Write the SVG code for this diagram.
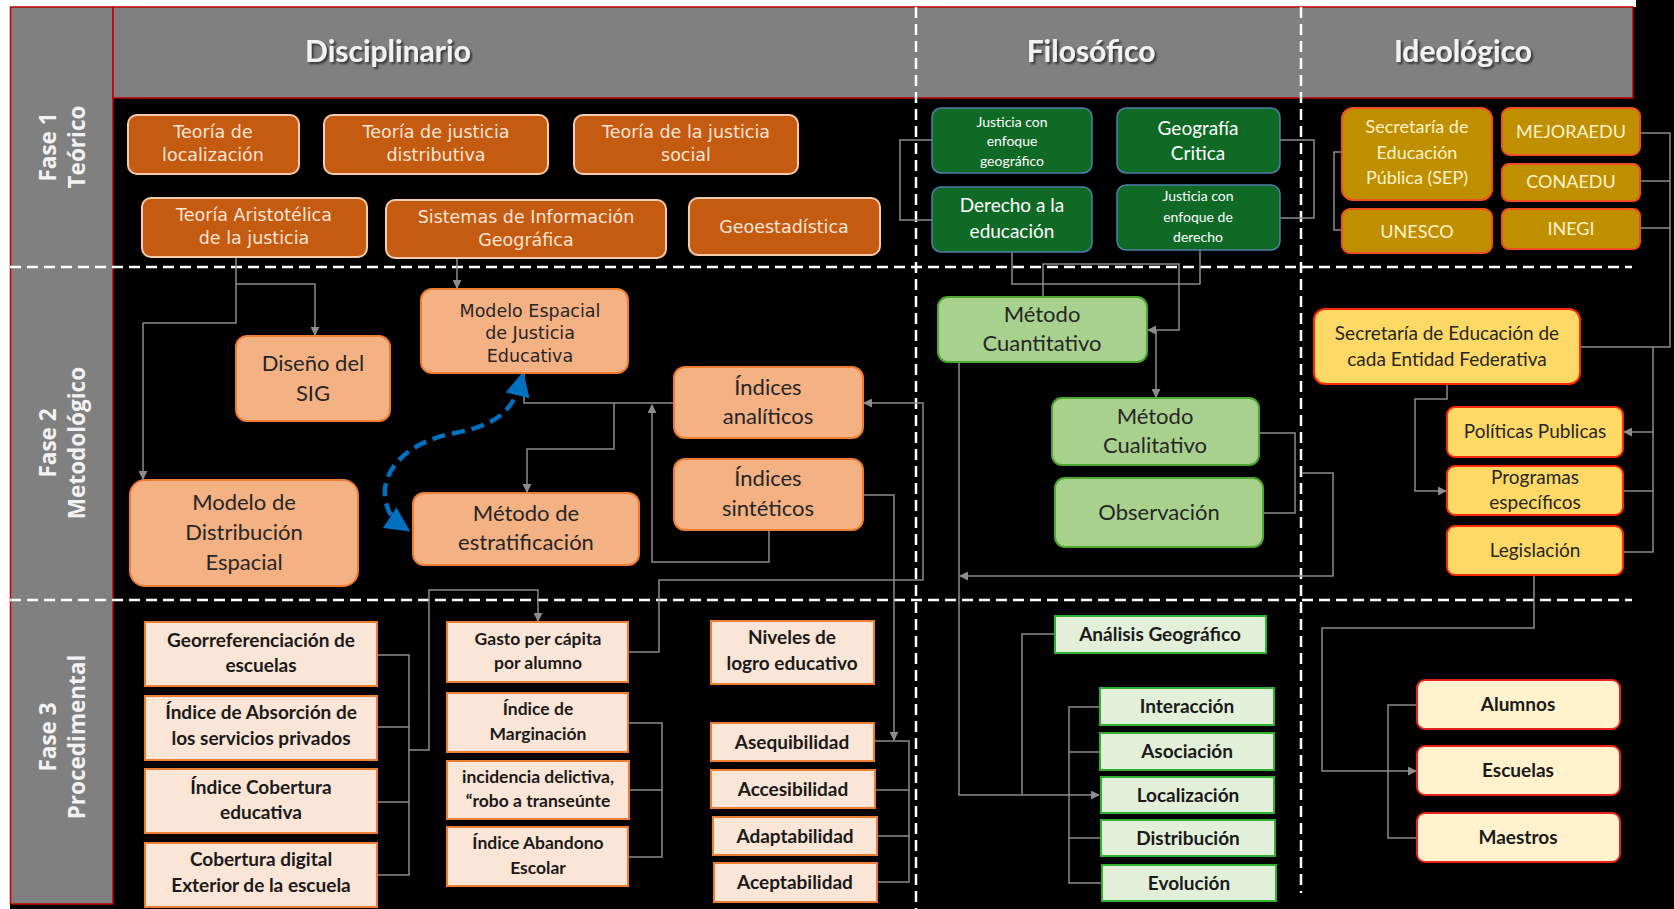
<svg xmlns="http://www.w3.org/2000/svg" width="1674" height="909" viewBox="0 0 1674 909">
<style>
text{text-anchor:middle}
.hd{font-family:Lato,"Liberation Sans",sans-serif;font-weight:bold;font-size:30px;fill:#F2F2F2}
.fl{font-family:"Open Sans","Liberation Sans",sans-serif;font-weight:bold;font-size:22.5px;fill:#F2F2F2}
.dash{stroke:#FFFFFF;stroke-width:2.5;stroke-dasharray:11 6;fill:none}
.c{stroke:#8C8C8C;stroke-width:1.5;fill:none}
.ca{stroke:#8C8C8C;stroke-width:1.5;fill:none;marker-end:url(#ag)}
.o1{fill:#C55A11;stroke:#F8CBAD;stroke-width:2}
.t1{font-family:"DejaVu Sans","Liberation Sans",sans-serif;font-size:17.5px;fill:#FBE5D6}
.g1{fill:#0F6A25;stroke:#4F7FA8;stroke-width:1.5}
.tg{font-family:Lato,"Liberation Sans",sans-serif;font-size:19px;fill:#FFFFFF}
.tgs{font-family:Lato,"Liberation Sans",sans-serif;font-size:14px;fill:#FFFFFF}
.y1{fill:#BF8F00;stroke:#F0501E;stroke-width:2}
.ty1{font-family:Lato,"Liberation Sans",sans-serif;font-size:18px;fill:#FFF2CC}
.o2{fill:#F4B183;stroke:#ED7D31;stroke-width:2}
.t2{font-family:Lato,"Liberation Sans",sans-serif;font-size:22px;fill:#262626}
.t2m{font-family:"DejaVu Sans","Liberation Sans",sans-serif;font-size:17.5px;fill:#262626}
.gr2{fill:#A9D18E;stroke:#4EA72E;stroke-width:2}
.y2{fill:#FFD966;stroke:#FF2A00;stroke-width:2}
.ty2{font-family:Lato,"Liberation Sans",sans-serif;font-size:19px;fill:#262626}
.p3{fill:#FBE5D6;stroke:#ED7D31;stroke-width:2}
.t3{font-family:Lato,"Liberation Sans",sans-serif;font-weight:bold;font-size:19px;fill:#1A1A1A}
.t3s{font-family:Lato,"Liberation Sans",sans-serif;font-weight:bold;font-size:17.5px;fill:#1A1A1A}
.gr3{fill:#E2F0D9;stroke:#2FB02F;stroke-width:2}
.c3{fill:#FFF2CC;stroke:#E8231B;stroke-width:2}
</style>
<defs>
<marker id="ag" viewBox="0 0 10 10" refX="9" refY="5" markerWidth="9" markerHeight="9" markerUnits="userSpaceOnUse" orient="auto"><path d="M0,0 L10,5 L0,10 z" fill="#8C8C8C"/></marker>
<marker id="ab" viewBox="0 0 10 10" refX="6" refY="5" markerWidth="5.5" markerHeight="5.5" orient="auto-start-reverse"><path d="M0,0 L10,5 L0,10 z" fill="#0070C0"/></marker>
<filter id="sh" x="-10%" y="-20%" width="130%" height="150%"><feDropShadow dx="2" dy="2" stdDeviation="1.2" flood-color="#000" flood-opacity="0.6"/></filter>
</defs>

<g id="background">
<rect x="0" y="0" width="1674" height="909" fill="#FFFFFF"/>
<rect x="10" y="7" width="1664" height="902" fill="#000000"/>
<rect x="1636" y="0" width="38" height="8" fill="#000000"/>
<rect x="10.5" y="7" width="102.5" height="897" fill="#808080" stroke="#C00000" stroke-width="1.5"/>
<rect x="113" y="7" width="1520" height="91" fill="#808080" stroke="#C00000" stroke-width="1.5"/>
</g>

<g id="headers" filter="url(#sh)">
<text class="hd" x="388" y="62">Disciplinario</text>
<text class="hd" x="1091" y="62">Filosófico</text>
<text class="hd" x="1463" y="62">Ideológico</text>
</g>

<g id="phase-labels">
<g transform="translate(62,147) rotate(-90)"><text class="fl" x="0" y="-6">Fase 1</text><text class="fl" x="0" y="23">Teórico</text></g>
<g transform="translate(62,443) rotate(-90)"><text class="fl" x="0" y="-6">Fase 2</text><text class="fl" x="0" y="23">Metodológico</text></g>
<g transform="translate(62,737) rotate(-90)"><text class="fl" x="0" y="-6">Fase 3</text><text class="fl" x="0" y="23">Procedimental</text></g>
</g>

<g id="dividers">
<line class="dash" x1="10" y1="267" x2="1632" y2="267"/>
<line class="dash" x1="10" y1="600" x2="1632" y2="600"/>
<line class="dash" x1="916" y1="7" x2="916" y2="909"/>
<line class="dash" x1="1301" y1="7" x2="1301" y2="893"/>
</g>

<g id="connectors">
<path class="ca" d="M236,257 V323 H143 V479"/>
<path class="ca" d="M236,284 H315 V335"/>
<path class="ca" d="M457,258 V288"/>
<path class="c" d="M674,403 H524 V374"/>
<path class="ca" d="M614,403 V449 H527 V492"/>
<path class="ca" d="M769,530 V562 H652 V405"/>
<path class="ca" d="M628,652 H659 V580 H923 V403 H864"/>
<path class="ca" d="M862,495 H894 V740"/>
<path class="c" d="M875,741 H909 V882 H877 M875,790 H909 M877,836 H909"/>
<path class="c" d="M377,655 H409 V875 H377 M377,727 H409 M377,802 H409"/>
<path class="ca" d="M409,750 H429 V590 H538 V621"/>
<path class="c" d="M628,723 H662 V857 H628 M629,790 H662"/>
<path class="c" d="M932,140 H900 V220 H932"/>
<path class="c" d="M1280,140 H1314 V218 H1280"/>
<path class="c" d="M1012,252 V284 H1200 V250"/>
<path class="ca" d="M1043,297 V264 H1179 V330 H1148"/>
<path class="ca" d="M1156,330 V397"/>
<path class="c" d="M1259,433 H1295 V513 H1263"/>
<path class="ca" d="M1302,473 H1333 V576 H960"/>
<path class="ca" d="M959,362 V795 H1099"/>
<path class="c" d="M1055,634 H1022 V795"/>
<path class="c" d="M1100,707 H1069 V883 H1102 M1069,752 H1100 M1069,838 H1101"/>
<path class="c" d="M1342,152 H1334 V230 H1342"/>
<path class="c" d="M1640,133 H1670 V347 H1580 M1640,181 H1670 M1640,228 H1670"/>
<path class="c" d="M1653,347 V552 H1623 M1653,491 H1623"/>
<path class="ca" d="M1653,432 H1624"/>
<path class="ca" d="M1447,384 V399 H1415 V491 H1446"/>
<path class="ca" d="M1534,575 V628 H1322 V771 H1416"/>
<path class="c" d="M1417,705 H1388 V838 H1417"/>
<path d="M521,381 C512,418 485,427 455,433 C410,441 382,468 385,497 C387,512 393,520 402,526" fill="none" stroke="#0070C0" stroke-width="4.5" stroke-dasharray="13 7" marker-start="url(#ab)" marker-end="url(#ab)"/>
</g>

<g id="n-teoria-localizacion"><rect class="o1" x="128" y="115" width="171" height="59" rx="9"/><text class="t1" x="213" y="138">Teoría de</text><text class="t1" x="213" y="161">localización</text></g>
<g id="n-teoria-distributiva"><rect class="o1" x="324" y="115" width="224" height="59" rx="9"/><text class="t1" x="436" y="138">Teoría de justicia</text><text class="t1" x="436" y="161">distributiva</text></g>
<g id="n-teoria-social"><rect class="o1" x="574" y="115" width="224" height="59" rx="9"/><text class="t1" x="686" y="138">Teoría de la justicia</text><text class="t1" x="686" y="161">social</text></g>
<g id="n-teoria-aristotelica"><rect class="o1" x="142" y="198" width="225" height="59" rx="9"/><text class="t1" x="254" y="221">Teoría Aristotélica</text><text class="t1" x="254" y="244">de la justicia</text></g>
<g id="n-sig"><rect class="o1" x="386" y="200" width="280" height="58" rx="9"/><text class="t1" x="526" y="223">Sistemas de Información</text><text class="t1" x="526" y="246">Geográfica</text></g>
<g id="n-geoestadistica"><rect class="o1" x="689" y="198" width="191" height="57" rx="9"/><text class="t1" x="784" y="233">Geoestadística</text></g>

<g id="n-justicia-geografico"><rect class="g1" x="932" y="108" width="160" height="65" rx="9"/><text class="tgs" x="1012" y="127">Justicia con</text><text class="tgs" x="1012" y="146">enfoque</text><text class="tgs" x="1012" y="166">geográfico</text></g>
<g id="n-geografia-critica"><rect class="g1" x="1117" y="108" width="163" height="65" rx="9"/><text class="tg" x="1198" y="135">Geografía</text><text class="tg" x="1198" y="160">Critica</text></g>
<g id="n-derecho-educacion"><rect class="g1" x="932" y="187" width="160" height="65" rx="9"/><text class="tg" x="1012" y="212">Derecho a la</text><text class="tg" x="1012" y="238">educación</text></g>
<g id="n-justicia-derecho"><rect class="g1" x="1117" y="185" width="163" height="65" rx="9"/><text class="tgs" x="1198" y="201">Justicia con</text><text class="tgs" x="1198" y="222">enfoque de</text><text class="tgs" x="1198" y="242">derecho</text></g>

<g id="n-sep"><rect class="y1" x="1342" y="108" width="150" height="92" rx="11"/><text class="ty1" x="1417" y="133">Secretaría de</text><text class="ty1" x="1417" y="159">Educación</text><text class="ty1" x="1417" y="184">Pública (SEP)</text></g>
<g id="n-mejoraedu"><rect class="y1" x="1502" y="108" width="138" height="47" rx="8"/><text class="ty1" x="1571" y="138">MEJORAEDU</text></g>
<g id="n-conaedu"><rect class="y1" x="1502" y="164" width="138" height="37" rx="7"/><text class="ty1" x="1571" y="188">CONAEDU</text></g>
<g id="n-unesco"><rect class="y1" x="1342" y="209" width="150" height="44" rx="8"/><text class="ty1" x="1417" y="238">UNESCO</text></g>
<g id="n-inegi"><rect class="y1" x="1502" y="209" width="138" height="40" rx="7"/><text class="ty1" x="1571" y="235">INEGI</text></g>

<g id="n-modelo-espacial"><rect class="o2" x="421" y="289" width="207" height="84" rx="11"/><text class="t2m" x="530" y="317">Modelo Espacial</text><text class="t2m" x="530" y="339">de Justicia</text><text class="t2m" x="530" y="362">Educativa</text></g>
<g id="n-diseno-sig"><rect class="o2" x="236" y="336" width="154" height="85" rx="11"/><text class="t2" x="313" y="371">Diseño del</text><text class="t2" x="313" y="401">SIG</text></g>
<g id="n-indices-analiticos"><rect class="o2" x="674" y="367" width="189" height="71" rx="11"/><text class="t2" x="768" y="395">Índices</text><text class="t2" x="768" y="424">analíticos</text></g>
<g id="n-indices-sinteticos"><rect class="o2" x="674" y="459" width="189" height="71" rx="11"/><text class="t2" x="768" y="486">Índices</text><text class="t2" x="768" y="516">sintéticos</text></g>
<g id="n-modelo-distribucion"><rect class="o2" x="130" y="480" width="228" height="106" rx="15"/><text class="t2" x="244" y="510">Modelo de</text><text class="t2" x="244" y="540">Distribución</text><text class="t2" x="244" y="570">Espacial</text></g>
<g id="n-metodo-estratificacion"><rect class="o2" x="413" y="493" width="226" height="72" rx="11"/><text class="t2" x="526" y="521">Método de</text><text class="t2" x="526" y="550">estratificación</text></g>

<g id="n-metodo-cuantitativo"><rect class="gr2" x="938" y="297" width="209" height="65" rx="10"/><text class="t2" x="1042" y="322">Método</text><text class="t2" x="1042" y="351">Cuantitativo</text></g>
<g id="n-metodo-cualitativo"><rect class="gr2" x="1052" y="398" width="207" height="67" rx="10"/><text class="t2" x="1155" y="424">Método</text><text class="t2" x="1155" y="453">Cualitativo</text></g>
<g id="n-observacion"><rect class="gr2" x="1055" y="478" width="208" height="69" rx="10"/><text class="t2" x="1159" y="520">Observación</text></g>

<g id="n-secretaria-entidad"><rect class="y2" x="1314" y="309" width="266" height="75" rx="11"/><text class="ty2" x="1447" y="340">Secretaría de Educación de</text><text class="ty2" x="1447" y="366">cada Entidad Federativa</text></g>
<g id="n-politicas"><rect class="y2" x="1447" y="407" width="176" height="50" rx="8"/><text class="ty2" x="1535" y="438">Políticas Publicas</text></g>
<g id="n-programas"><rect class="y2" x="1447" y="466" width="176" height="49" rx="8"/><text class="ty2" x="1535" y="484">Programas</text><text class="ty2" x="1535" y="509">específicos</text></g>
<g id="n-legislacion"><rect class="y2" x="1447" y="526" width="176" height="49" rx="8"/><text class="ty2" x="1535" y="557">Legislación</text></g>

<g id="n-georref"><rect class="p3" x="145" y="622" width="232" height="64"/><text class="t3" x="261" y="647">Georreferenciación de</text><text class="t3" x="261" y="672">escuelas</text></g>
<g id="n-absorcion"><rect class="p3" x="145" y="696" width="232" height="64"/><text class="t3" x="261" y="719">Índice de Absorción de</text><text class="t3" x="261" y="745">los servicios privados</text></g>
<g id="n-cobertura-educativa"><rect class="p3" x="145" y="769" width="232" height="64"/><text class="t3" x="261" y="794">Índice Cobertura</text><text class="t3" x="261" y="819">educativa</text></g>
<g id="n-cobertura-digital"><rect class="p3" x="145" y="843" width="232" height="64"/><text class="t3" x="261" y="866">Cobertura digital</text><text class="t3" x="261" y="892">Exterior de la escuela</text></g>
<g id="n-gasto"><rect class="p3" x="447" y="622" width="181" height="60"/><text class="t3s" x="538" y="645">Gasto per cápita</text><text class="t3s" x="538" y="669">por alumno</text></g>
<g id="n-marginacion"><rect class="p3" x="447" y="693" width="181" height="59"/><text class="t3s" x="538" y="715">Índice de</text><text class="t3s" x="538" y="740">Marginación</text></g>
<g id="n-incidencia"><rect class="p3" x="447" y="761" width="182" height="58"/><text class="t3s" x="538" y="783">incidencia delictiva,</text><text class="t3s" x="538" y="807">“robo a transeúnte</text></g>
<g id="n-abandono"><rect class="p3" x="447" y="827" width="181" height="59"/><text class="t3s" x="538" y="849">Índice Abandono</text><text class="t3s" x="538" y="874">Escolar</text></g>
<g id="n-niveles"><rect class="p3" x="711" y="621" width="163" height="63"/><text class="t3" x="792" y="644">Niveles de</text><text class="t3" x="792" y="670">logro educativo</text></g>
<g id="n-asequibilidad"><rect class="p3" x="711" y="723" width="163" height="38"/><text class="t3" x="792" y="749">Asequibilidad</text></g>
<g id="n-accesibilidad"><rect class="p3" x="711" y="770" width="164" height="38"/><text class="t3" x="793" y="796">Accesibilidad</text></g>
<g id="n-adaptabilidad"><rect class="p3" x="713" y="817" width="164" height="38"/><text class="t3" x="795" y="843">Adaptabilidad</text></g>
<g id="n-aceptabilidad"><rect class="p3" x="714" y="863" width="163" height="39"/><text class="t3" x="795" y="889">Aceptabilidad</text></g>

<g id="n-analisis"><rect class="gr3" x="1055" y="616" width="211" height="37"/><text class="t3" x="1160" y="641">Análisis Geográfico</text></g>
<g id="n-interaccion"><rect class="gr3" x="1100" y="688" width="174" height="37"/><text class="t3" x="1187" y="713">Interacción</text></g>
<g id="n-asociacion"><rect class="gr3" x="1100" y="733" width="174" height="37"/><text class="t3" x="1187" y="758">Asociación</text></g>
<g id="n-localizacion"><rect class="gr3" x="1101" y="777" width="173" height="36"/><text class="t3" x="1188" y="802">Localización</text></g>
<g id="n-distribucion"><rect class="gr3" x="1101" y="820" width="174" height="36"/><text class="t3" x="1188" y="845">Distribución</text></g>
<g id="n-evolucion"><rect class="gr3" x="1102" y="865" width="174" height="36"/><text class="t3" x="1189" y="890">Evolución</text></g>

<g id="n-alumnos"><rect class="c3" x="1417" y="680" width="203" height="49" rx="8"/><text class="t3" x="1518" y="711">Alumnos</text></g>
<g id="n-escuelas"><rect class="c3" x="1417" y="746" width="203" height="49" rx="8"/><text class="t3" x="1518" y="777">Escuelas</text></g>
<g id="n-maestros"><rect class="c3" x="1417" y="813" width="203" height="49" rx="8"/><text class="t3" x="1518" y="844">Maestros</text></g>
</svg>
